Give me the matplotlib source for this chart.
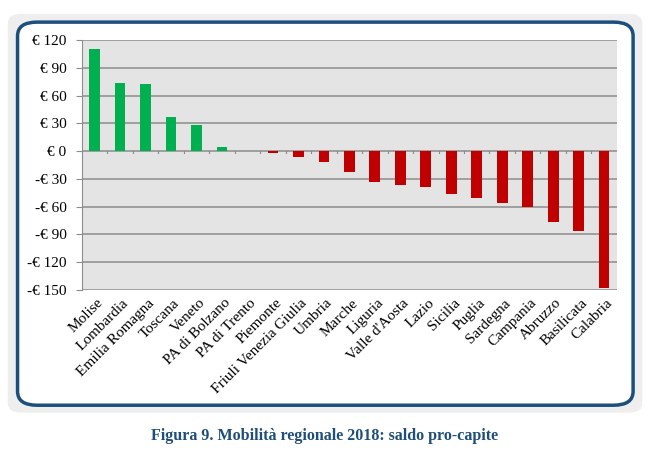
import numpy as np
import matplotlib.pyplot as plt
from matplotlib.patches import FancyBboxPatch

regioni = ["Molise", "Lombardia", "Emilia Romagna", "Toscana", "Veneto",
           "PA di Bolzano", "PA di Trento", "Piemonte", "Friuli Venezia Giulia",
           "Umbria", "Marche", "Liguria", "Valle d'Aosta", "Lazio", "Sicilia",
           "Puglia", "Sardegna", "Campania", "Abruzzo", "Basilicata", "Calabria"]
saldo = [110, 74, 73, 37, 28, 4, 0.5, -2, -6, -12, -22, -33, -37, -39, -46,
         -51, -56, -60, -77, -86, -148]

y_ticks = [120, 90, 60, 30, 0, -30, -60, -90, -120, -150]
y_labels = ["€ 120", "€ 90", "€ 60", "€ 30", "€ 0", "-€ 30", "-€ 60",
            "-€ 90", "-€ 120", "-€ 150"]

plt.rcParams['font.family'] = ['Liberation Serif', 'DejaVu Serif']

fig = plt.figure(figsize=(6.5, 4.61), dpi=100)

# sfondo grigio + cornice arrotondata
shadow = FancyBboxPatch((0.012, 0.105), 0.976, 0.865,
                        boxstyle="round,pad=0,rounding_size=0.02",
                        transform=fig.transFigure, facecolor="#eeeeee",
                        edgecolor="none", zorder=0)
fig.patches.append(shadow)
frame = FancyBboxPatch((0.027, 0.121), 0.947, 0.831,
                       boxstyle="round,pad=0,rounding_size=0.03",
                       transform=fig.transFigure, facecolor="white",
                       edgecolor="#1d4f7c", linewidth=2.5, zorder=1)
fig.patches.append(frame)

ax = fig.add_axes([0.126, 0.371, 0.823, 0.542])
ax.set_facecolor("#e4e4e4")
ax.set_zorder(2)

x = np.arange(len(regioni))
colori = ["#00b050" if v > 0 else "#c00000" for v in saldo]
ax.bar(x, saldo, width=0.42, color=colori, zorder=3)

ax.set_ylim(-150, 120)
ax.set_xlim(-0.5, len(regioni) - 0.5)
ax.set_yticks(y_ticks)
ax.set_yticklabels(y_labels, fontsize=11)
ax.yaxis.grid(True, color="#8c8c8c", linewidth=1.1, zorder=1)
ax.set_axisbelow(True)

for s in ["top", "right", "bottom"]:
    ax.spines[s].set_visible(False)
ax.spines["left"].set_color("#8c8c8c")
ax.tick_params(axis="y", length=4, color="#8c8c8c", pad=7)

# tick in basso sulla linea dello zero, tra le categorie
ax.set_xticks(x)
ax.set_xticklabels([])
ax.tick_params(axis="x", length=0)
for xi in np.arange(0.5, len(regioni) - 0.5, 1.0):
    ax.plot([xi, xi], [0, -2.5], color="#8c8c8c", linewidth=0.8, zorder=2)

for xi, nome in zip(x, regioni):
    ax.text(xi + 0.08, -157, nome, rotation=45, ha="right", va="top",
            rotation_mode="anchor", fontsize=11)

fig.text(0.5, 0.054, "Figura 9. Mobilità regionale 2018: saldo pro-capite",
         ha="center", va="center", fontsize=11.5, fontweight="bold",
         color="#1f4e79")

plt.savefig("out.png", dpi=100)
